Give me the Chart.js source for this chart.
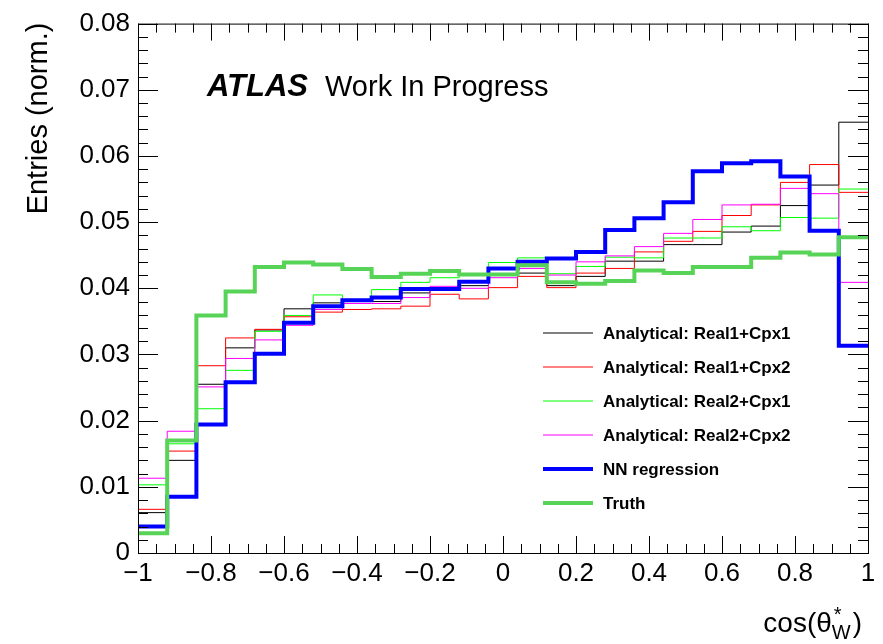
<!DOCTYPE html>
<html>
<head>
<meta charset="utf-8">
<script src="https://cdn.jsdelivr.net/npm/chart.js@4.4.1/dist/chart.umd.min.js"></script>
<style>
  html, body { margin: 0; padding: 0; background: #fff; }
</style>
</head>
<body>
<canvas id="cosChart" width="883" height="644"></canvas>
<script>
// bin edges of cos(theta*_W), 25 bins
var binEdges = [-1, -0.92, -0.84, -0.76, -0.68, -0.6, -0.52, -0.44, -0.36, -0.28, -0.2, -0.12, -0.04,
                0.04, 0.12, 0.2, 0.28, 0.36, 0.44, 0.52, 0.6, 0.68, 0.76, 0.84, 0.92, 1];

var real1Cpx1 = [0.0061, 0.0140, 0.0255, 0.0310, 0.0337, 0.0369, 0.0378, 0.0380, 0.0380, 0.0393, 0.0398, 0.0404, 0.0422,
                 0.0423, 0.0404, 0.0418, 0.0441, 0.0441, 0.0466, 0.0466, 0.0485, 0.0494, 0.0525, 0.0556, 0.0651];
var real1Cpx2 = [0.0066, 0.0154, 0.0283, 0.0325, 0.0338, 0.0357, 0.0364, 0.0368, 0.0369, 0.0373, 0.0391, 0.0384, 0.0401,
                 0.0418, 0.0401, 0.0423, 0.0430, 0.0455, 0.0471, 0.0486, 0.0510, 0.0526, 0.0560, 0.0587, 0.0545];
var real2Cpx1 = [0.0103, 0.0165, 0.0218, 0.0276, 0.0335, 0.0359, 0.0390, 0.0383, 0.0398, 0.0409, 0.0416, 0.0421, 0.0439,
                 0.0446, 0.0422, 0.0433, 0.0447, 0.0446, 0.0476, 0.0476, 0.0493, 0.0487, 0.0507, 0.0506, 0.0550];
var real2Cpx2 = [0.0113, 0.0184, 0.0251, 0.0294, 0.0322, 0.0344, 0.0368, 0.0377, 0.0377, 0.0386, 0.0403, 0.0400, 0.0416,
                 0.0430, 0.0420, 0.0440, 0.0449, 0.0463, 0.0483, 0.0504, 0.0526, 0.0527, 0.0551, 0.0543, 0.0409];
var nnRegression = [0.0040, 0.0085, 0.0194, 0.0258, 0.0301, 0.0348, 0.0373, 0.0382, 0.0386, 0.0399, 0.0399, 0.0410, 0.0430,
                    0.0440, 0.0445, 0.0455, 0.0488, 0.0506, 0.0530, 0.0577, 0.0589, 0.0592, 0.0569, 0.0487, 0.0313];
var truth = [0.0030, 0.0170, 0.0359, 0.0395, 0.0432, 0.0439, 0.0436, 0.0429, 0.0417, 0.0422, 0.0426, 0.0421, 0.0421,
             0.0435, 0.0409, 0.0407, 0.0411, 0.0427, 0.0423, 0.0432, 0.0432, 0.0446, 0.0454, 0.0451, 0.0477];

var yTicks = [0, 0.01, 0.02, 0.03, 0.04, 0.05, 0.06, 0.07, 0.08];

var FONT = '"Liberation Sans", Arial, Helvetica, sans-serif';

// step histogram: one point per left edge, plus the last right edge
function histPoints(values) {
    var pts = values.map(function (v, i) { return { x: binEdges[i], y: v }; });
    pts.push({ x: binEdges[binEdges.length - 1], y: values[values.length - 1] });
    return pts;
}

function histSet(label, values, color, width, order) {
    return {
        label: label,
        data: histPoints(values),
        borderColor: color,
        backgroundColor: color,
        borderWidth: width,
        pointRadius: 0,
        stepped: true,
        fill: false,
        borderJoinStyle: 'miter',
        borderCapStyle: 'butt',
        order: order
    };
}

function fmtX(v) {
    var r = Math.round(v * 10) / 10;
    if (r === 0) return '0';
    return r < 0 ? '\u2212' + String(Math.abs(r)) : String(r);
}

// ROOT-like frame, inner ticks, titles, text and legend
var rootStyle = {
    id: 'rootStyle',
    afterDraw: function (chart) {
        var ctx = chart.ctx;
        var a = chart.chartArea;
        var xs = chart.scales.x, ys = chart.scales.y;
        ctx.save();
        ctx.strokeStyle = '#000';
        ctx.lineWidth = 1;
        ctx.strokeRect(a.left + 0.5, a.top + 0.5, a.right - a.left, a.bottom - a.top);

        ctx.beginPath();
        for (var i = 0; i <= 40; i++) {
            var py = Math.round(ys.getPixelForValue(i * 0.002)) + 0.5;
            var len = (i % 5 === 0) ? 20 : 10;
            ctx.moveTo(a.left, py); ctx.lineTo(a.left + len, py);
            ctx.moveTo(a.right, py); ctx.lineTo(a.right - len, py);
        }
        for (var j = 0; j <= 40; j++) {
            var px = Math.round(xs.getPixelForValue(-1 + j * 0.05)) + 0.5;
            var l2 = (j % 4 === 0) ? 17 : 9;
            ctx.moveTo(px, a.bottom); ctx.lineTo(px, a.bottom - l2);
            ctx.moveTo(px, a.top); ctx.lineTo(px, a.top + l2);
        }
        ctx.stroke();

        ctx.fillStyle = '#000';
        // y title
        ctx.save();
        ctx.translate(47, a.top - 1);
        ctx.rotate(-Math.PI / 2);
        ctx.textAlign = 'right';
        ctx.textBaseline = 'alphabetic';
        ctx.font = '29px ' + FONT;
        ctx.fillText('Entries (norm.)', 0, 0);
        ctx.restore();

        // x title cos(theta*_W)
        ctx.textBaseline = 'alphabetic';
        ctx.textAlign = 'left';
        var base = 632, big = '28px ' + FONT, small = '20px ' + FONT;
        ctx.font = big;
        var w1 = ctx.measureText('cos(\u03b8').width;
        ctx.font = small;
        var wS = Math.max(ctx.measureText('*').width, ctx.measureText('W').width);
        ctx.font = big;
        var w3 = ctx.measureText(')').width;
        var x0 = 862 - (w1 + wS + 2 + w3);
        ctx.fillText('cos(\u03b8', x0, base);
        ctx.font = small;
        ctx.fillText('*', x0 + w1 + 2, base - 11);
        ctx.fillText('W', x0 + w1, base + 7);
        ctx.font = big;
        ctx.fillText(')', x0 + w1 + wS + 2, base);

        // ATLAS label
        ctx.font = 'italic bold 31px ' + FONT;
        ctx.fillText('ATLAS', 207, 96);
        ctx.font = '29px ' + FONT;
        ctx.fillText('Work In Progress', 325, 96);

        // legend
        var order = chart.data.datasets;
        ctx.textBaseline = 'middle';
        ctx.font = 'bold 17px ' + FONT;
        order.forEach(function (ds, k) {
            var ly = 333 + k * 34;
            ctx.strokeStyle = ds.borderColor;
            ctx.lineWidth = ds.borderWidth;
            ctx.beginPath();
            ctx.moveTo(543, ly); ctx.lineTo(593, ly);
            ctx.stroke();
            ctx.fillStyle = '#000';
            ctx.fillText(ds.label, 603, ly + 1);
        });
        ctx.restore();
    }
};

var ctx = document.getElementById('cosChart').getContext('2d');
var chart = new Chart(ctx, {
    type: 'line',
    data: {
        datasets: [
            histSet('Analytical: Real1+Cpx1', real1Cpx1, '#000000', 1, 5),
            histSet('Analytical: Real1+Cpx2', real1Cpx2, '#ff0000', 1, 4),
            histSet('Analytical: Real2+Cpx1', real2Cpx1, '#00ff00', 1, 3),
            histSet('Analytical: Real2+Cpx2', real2Cpx2, '#ff00ff', 1, 2),
            histSet('NN regression', nnRegression, '#0000ff', 4, 1),
            histSet('Truth', truth, '#57d357', 4, 0)
        ]
    },
    options: {
        responsive: false,
        animation: false,
        devicePixelRatio: 1,
        layout: { padding: { left: 0, right: 15, top: 20, bottom: 0 } },
        plugins: {
            legend: { display: false },
            tooltip: { enabled: false }
        },
        scales: {
            x: {
                type: 'linear',
                min: -1,
                max: 1,
                afterFit: function (s) { s.height = 91; },
                grid: { display: false, drawTicks: false },
                border: { display: false },
                ticks: {
                    stepSize: 0.2,
                    autoSkip: false,
                    maxRotation: 0,
                    padding: 5,
                    color: '#000',
                    font: { family: FONT, size: 26 },
                    callback: function (v) { return fmtX(v); }
                }
            },
            y: {
                min: 0,
                max: 0.08,
                afterFit: function (s) { s.width = 138; },
                afterBuildTicks: function (s) { s.ticks = yTicks.map(function (v) { return { value: v }; }); },
                grid: { display: false, drawTicks: false },
                border: { display: false },
                ticks: {
                    padding: 8,
                    color: '#000',
                    font: { family: FONT, size: 26 },
                    callback: function (v) { return v === 0 ? '0' : v.toFixed(2); }
                }
            }
        }
    },
    plugins: [rootStyle]
});
</script>
</body>
</html>
